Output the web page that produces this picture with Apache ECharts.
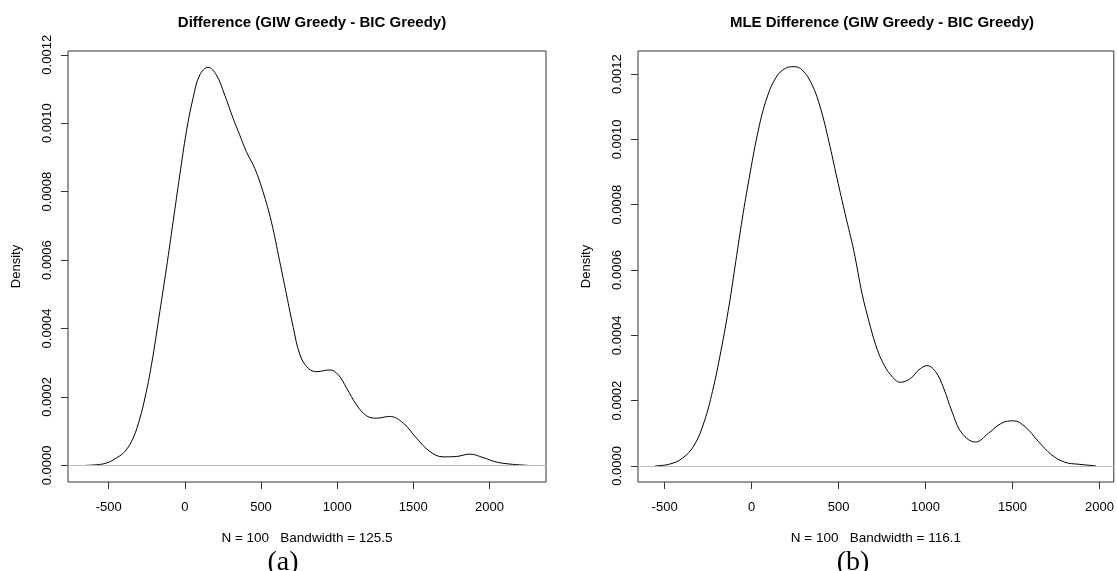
<!DOCTYPE html>
<html>
<head>
<meta charset="utf-8">
<script src="https://cdn.jsdelivr.net/npm/echarts@6/dist/echarts.min.js"></script>
<style>
    html, body { margin: 0; padding: 0; background: #fff; }
    #main { width: 1117px; height: 571px; }
</style>
</head>
<body>
<div id="main"></div>
<script>
    // (a) density of difference
    var leftX = [-655, -579, -514, -448, -393, -339, -295, -262, -219, -164, -121, -77, -33, 10, 54, 98, 153,
        207, 262, 317, 360, 404, 459, 513, 568, 622, 668, 712, 756, 810, 865, 952, 1007, 1062, 1127,
        1193, 1258, 1345, 1433, 1520, 1608, 1695, 1782, 1870, 1957, 2045, 2132, 2256];
    var leftY = [0, 0.000002, 0.000007, 0.000022, 0.000041, 0.00008, 0.000138, 0.000197, 0.000294, 0.00045,
        0.000576, 0.000712, 0.000849, 0.000975, 0.001073, 0.001141, 0.001163,
        0.001141, 0.001082, 0.001014, 0.000966, 0.000917, 0.000868, 0.0008, 0.000712, 0.000598, 0.000498,
        0.000403, 0.000323, 0.000284, 0.000274, 0.000279, 0.000265, 0.000226, 0.000177,
        0.000145, 0.000138, 0.000143, 0.000124, 0.00008, 0.000041, 0.000025, 0.000026, 0.000033, 0.000023,
        0.00001, 0.000004, 0];

    // (b) MLE difference
    var rightX = [-555, -473, -396, -329, -272, -225, -177, -129, -91, -53, -14, 33, 81, 138, 195, 243,
        291, 348, 396, 444, 491, 539, 587, 636, 675, 713, 751, 799, 856, 914, 961, 1009, 1057, 1104,
        1152, 1209, 1287, 1362, 1438, 1505, 1572, 1648, 1724, 1801, 1877, 1980];
    var rightY = [0, 0.000005, 0.000024, 0.000064, 0.000136, 0.000228, 0.00035, 0.000493, 0.000626, 0.000759,
        0.000881, 0.001014, 0.001116, 0.001188, 0.001218, 0.001223,
        0.001213, 0.001167, 0.001096, 0.000994, 0.000881, 0.000769, 0.000660, 0.000525, 0.000442, 0.000371,
        0.00032, 0.000279, 0.000256, 0.000268, 0.000294, 0.000307, 0.000289, 0.000238,
        0.000166, 0.0001, 0.000073, 0.0001, 0.000131, 0.000138, 0.00012, 0.000075, 0.000034, 0.000011,
        0.000005, 0];

    var xTicks = [-500, 0, 500, 1000, 1500, 2000];
    var yTicks = [0, 0.0002, 0.0004, 0.0006, 0.0008, 0.001, 0.0012];

    var titles = ['Difference (GIW Greedy - BIC Greedy)', 'MLE Difference (GIW Greedy - BIC Greedy)'];
    var subs = ['N = 100   Bandwidth = 125.5', 'N = 100   Bandwidth = 116.1'];
    var tags = ['(a)', '(b)'];

    var font = 'Liberation Sans, Arial, sans-serif';
    var serif = 'Liberation Serif, Times New Roman, serif';

    function pairs(xs, ys) {
        var out = [];
        for (var i = 0; i < xs.length; i++) {
            out.push([xs[i], ys[i]]);
        }
        return out;
    }

    function xAxisOf(i, min, max) {
        return {
            type: 'value', gridIndex: i, min: min, max: max,
            name: subs[i], nameLocation: 'middle', nameGap: 49,
            nameTextStyle: {fontSize: 13.5, color: '#000', fontFamily: font},
            axisLine: {show: false, onZero: false},
            splitLine: {show: false},
            axisTick: {show: true, length: 7, customValues: xTicks, lineStyle: {color: '#333'}},
            axisLabel: {
                customValues: xTicks, fontSize: 13, color: '#000', fontFamily: font, margin: 19,
                formatter: function (v) { return String(v); }
            }
        };
    }

    function yAxisOf(i, min, max) {
        return {
            type: 'value', gridIndex: i, min: min, max: max,
            name: 'Density', nameLocation: 'middle', nameGap: 45, nameRotate: 90,
            nameTextStyle: {fontSize: 13, color: '#000', fontFamily: font},
            axisLine: {show: false, onZero: false},
            splitLine: {show: false},
            axisTick: {show: true, length: 7, customValues: yTicks, lineStyle: {color: '#333'}},
            axisLabel: {
                customValues: yTicks, rotate: 90, fontSize: 13, color: '#000', fontFamily: font, margin: 14,
                formatter: function (v) { return v.toFixed(4); }
            }
        };
    }

    function curve(i, xs, ys) {
        return {
            type: 'line', xAxisIndex: i, yAxisIndex: i,
            data: pairs(xs, ys),
            smooth: 0.4, symbol: 'none',
            lineStyle: {color: '#000', width: 1},
            markLine: {
                silent: true, symbol: 'none', label: {show: false},
                lineStyle: {color: '#bebebe', width: 1, type: 'solid'},
                data: [{yAxis: 0}]
            }
        };
    }

    var box = {show: true, borderColor: '#333', borderWidth: 1, top: 51, height: 431, width: 478};

    var option = {
        animation: false,
        title: [
            {text: titles[0], left: 307, top: 10, textAlign: 'center',
                textStyle: {fontSize: 15, fontWeight: 'bold', color: '#000', fontFamily: font}},
            {text: titles[1], left: 877, top: 10, textAlign: 'center',
                textStyle: {fontSize: 15, fontWeight: 'bold', color: '#000', fontFamily: font}},
            {text: tags[0], left: 278, top: 544, textAlign: 'center',
                textStyle: {fontSize: 28, fontWeight: 'normal', color: '#000', fontFamily: serif}},
            {text: tags[1], left: 848, top: 544, textAlign: 'center',
                textStyle: {fontSize: 28, fontWeight: 'normal', color: '#000', fontFamily: serif}}
        ],
        grid: [
            Object.assign({left: 68}, box),
            Object.assign({left: 638}, box)
        ],
        xAxis: [xAxisOf(0, -767, 2371), xAxisOf(1, -653, 2082)],
        yAxis: [yAxisOf(0, -0.0000485, 0.001211), yAxisOf(1, -0.0000495, 0.001271)],
        series: [curve(0, leftX, leftY), curve(1, rightX, rightY)]
    };

    var chart = echarts.init(document.getElementById('main'));
    chart.setOption(option);
</script>
</body>
</html>
